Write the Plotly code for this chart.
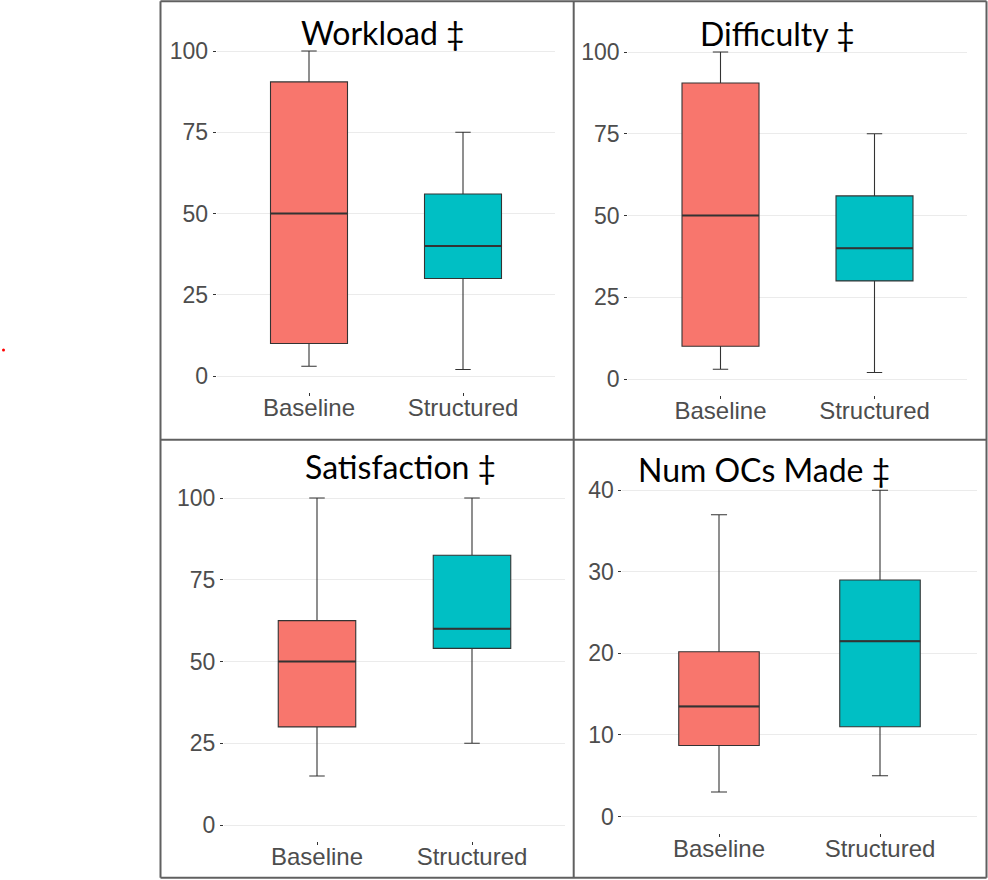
import plotly.graph_objects as go

W, H = 988, 880

categories = ["Baseline", "Structured"]
colors = ["#F8766D", "#00BFC4"]

panel_titles = ["Workload ‡", "Difficulty ‡", "Satisfaction ‡", "Num OCs Made ‡"]

# box statistics per panel: [Baseline, Structured]
workload_lower = [3, 2]
workload_q1 = [10, 30]
workload_median = [50, 40]
workload_q3 = [90.5, 56]
workload_upper = [100, 75]

difficulty_lower = [3, 2]
difficulty_q1 = [10, 30]
difficulty_median = [50, 40]
difficulty_q3 = [90.5, 56]
difficulty_upper = [100, 75]

satisfaction_lower = [15, 25]
satisfaction_q1 = [30, 54]
satisfaction_median = [50, 60]
satisfaction_q3 = [62.5, 82.5]
satisfaction_upper = [100, 100]

ocs_lower = [3, 5]
ocs_q1 = [8.7, 11]
ocs_median = [13.5, 21.5]
ocs_q3 = [20.2, 29]
ocs_upper = [37, 40]

tick_100 = [0, 25, 50, 75, 100]
tick_40 = [0, 10, 20, 30, 40]

panels = [
    dict(title=panel_titles[0], lo=workload_lower, q1=workload_q1, med=workload_median,
         q3=workload_q3, up=workload_upper, ticks=tick_100, yr=[-5, 105],
         xd=[216.6, 555.4], yd=[34.75, 392.25], tpos=(383, 33)),
    dict(title=panel_titles[1], lo=difficulty_lower, q1=difficulty_q1, med=difficulty_median,
         q3=difficulty_q3, up=difficulty_upper, ticks=tick_100, yr=[-5, 105],
         xd=[628.1, 966.9], yd=[35.65, 395.35], tpos=(777, 34)),
    dict(title=panel_titles[2], lo=satisfaction_lower, q1=satisfaction_q1, med=satisfaction_median,
         q3=satisfaction_q3, up=satisfaction_upper, ticks=tick_100, yr=[-5, 105],
         xd=[224, 565], yd=[481.65, 841.35], tpos=(400, 467)),
    dict(title=panel_titles[3], lo=ocs_lower, q1=ocs_q1, med=ocs_median,
         q3=ocs_q3, up=ocs_upper, ticks=tick_40, yr=[-2, 42],
         xd=[622.4, 976.6], yd=[474.0, 832.8], tpos=(764, 469)),
]

fig = go.Figure()
layout = {}
annotations = []
line_col = "#333333"

for i, p in enumerate(panels):
    n = "" if i == 0 else str(i + 1)
    xa, ya = "x" + n, "y" + n
    for j, cat in enumerate(categories):
        fig.add_trace(go.Box(
            x=[j], q1=[p["q1"][j]], median=[p["med"][j]], q3=[p["q3"][j]],
            lowerfence=[p["lo"][j]], upperfence=[p["up"][j]],
            width=0.5, whiskerwidth=0.2, fillcolor=colors[j],
            line=dict(color=line_col, width=1.1), boxpoints=False,
            xaxis=xa, yaxis=ya, showlegend=False, hoverinfo="skip"))
        # thicker median line
        fig.add_trace(go.Scatter(
            x=[j - 0.25, j + 0.25], y=[p["med"][j], p["med"][j]], mode="lines",
            line=dict(color="#333333", width=2), xaxis=xa, yaxis=ya,
            showlegend=False, hoverinfo="skip"))
    layout["xaxis" + n] = dict(
        domain=[p["xd"][0] / W, p["xd"][1] / W], range=[-0.6, 1.6],
        tickvals=[0, 1], ticktext=categories, ticks="outside", ticklen=3,
        tickcolor="#333333", tickwidth=1, showgrid=False, zeroline=False,
        showline=False, anchor=ya, ticklabelstandoff=-9,
        tickfont=dict(family="Liberation Sans, Arial", size=24, color="#4d4d4d"),
        fixedrange=True)
    layout["yaxis" + n] = dict(
        domain=[1 - p["yd"][1] / H, 1 - p["yd"][0] / H], range=p["yr"],
        tickvals=p["ticks"], ticks="outside", ticklen=3, tickcolor="#333333",
        tickwidth=1, showgrid=True, gridcolor="#ebebeb", gridwidth=1,
        zeroline=False, showline=False, anchor=xa,
        tickfont=dict(family="Liberation Sans, Arial", size=23, color="#4d4d4d"),
        fixedrange=True)
    annotations.append(dict(
        text=p["title"], x=p["tpos"][0] / W, y=1 - p["tpos"][1] / H,
        xref="paper", yref="paper", xanchor="center", yanchor="middle",
        showarrow=False, font=dict(family="Lato, Open Sans", size=32, color="#000000")))

# panel borders
bc = "#606060"
shapes = []
for (x0, y0, x1, y1) in [
    (160.5, 1.3, 986.5, 1.3), (160.5, 439.7, 986.5, 439.7), (160.5, 877.7, 986.5, 877.7),
    (160.5, 1.3, 160.5, 877.7), (573.7, 1.3, 573.7, 877.7), (986.5, 1.3, 986.5, 877.7),
]:
    shapes.append(dict(type="line", xref="paper", yref="paper",
                       x0=x0 / W, x1=x1 / W, y0=1 - y0 / H, y1=1 - y1 / H,
                       line=dict(color=bc, width=2)))
# small red dot at left
shapes.append(dict(type="circle", xref="paper", yref="paper",
                   x0=2 / W, x1=5 / W, y0=1 - 348.5 / H, y1=1 - 351.5 / H,
                   fillcolor="#ff0000", line=dict(width=0)))

fig.update_layout(
    width=W, height=H, margin=dict(l=0, r=0, t=0, b=0),
    paper_bgcolor="white", plot_bgcolor="white",
    annotations=annotations, shapes=shapes, boxmode="overlay", **layout)

fig.write_html("out.html", config={"displayModeBar": False},
               post_script="document.body.style.margin='0px';document.body.style.overflow='hidden';")
